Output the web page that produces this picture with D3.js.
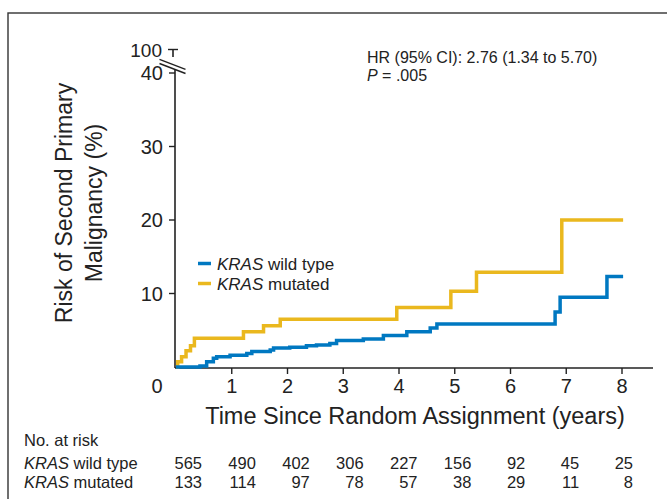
<!DOCTYPE html>
<html>
<head>
<meta charset="utf-8">
<script src="https://cdn.jsdelivr.net/npm/d3@7"></script>
<style>
  body { margin: 0; background: #fff; }
  svg { display: block; font-family: "Liberation Sans", Arial, sans-serif; }
</style>
</head>
<body>
<svg width="667" height="499"></svg>
<script>
// data
const wildTimes  = [0, 0.43, 0.55, 0.67, 0.73, 0.97, 1.27, 1.36, 1.69, 1.75, 2.04, 2.34, 2.52, 2.76, 2.88, 3.36, 3.72, 4.14, 4.56, 4.68, 6.80, 6.89, 7.73, 8.02];
const wildValues = [0, 0.15, 0.7, 1.2, 1.4, 1.6, 1.85, 2.1, 2.3, 2.6, 2.7, 2.9, 3.0, 3.2, 3.6, 3.8, 4.3, 4.8, 5.3, 5.85, 7.5, 9.5, 12.3, 12.3];
const mutTimes   = [0, 0.03, 0.1, 0.18, 0.26, 0.33, 1.21, 1.57, 1.87, 3.96, 4.93, 5.39, 6.92, 8.02];
const mutValues  = [0, 0.7, 1.4, 2.2, 2.9, 3.9, 4.8, 5.6, 6.5, 8.1, 10.3, 12.9, 20.0, 20.0];

const xTicks = [0, 1, 2, 3, 4, 5, 6, 7, 8];
const yTicks = [10, 20, 30, 40];
const riskWild = [565, 490, 402, 306, 227, 156, 92, 45, 25];
const riskMut  = [133, 114, 97, 78, 57, 38, 29, 11, 8];

const blue = "#0078c1";
const yellow = "#eab81e";
const ink = "#222";

const svg = d3.select("svg");

// frame (runs off the right and bottom edge)
svg.append("rect")
  .attr("x", 8).attr("y", 13)
  .attr("width", 700).attr("height", 600)
  .attr("fill", "none")
  .attr("stroke", "#333")
  .attr("stroke-width", 1.4);

const x = d3.scaleLinear().domain([0, 8]).range([176, 622]);
const y = d3.scaleLinear().domain([0, 40]).range([367, 73]);
const x0 = 175, yAxis = 368;

// x axis
svg.append("line")
  .attr("x1", x0).attr("x2", 653)
  .attr("y1", yAxis).attr("y2", yAxis)
  .attr("stroke", ink).attr("stroke-width", 1.6);

svg.selectAll(".xtick").data(xTicks.slice(1)).join("line")
  .attr("x1", d => x(d)).attr("x2", d => x(d))
  .attr("y1", yAxis).attr("y2", yAxis + 6)
  .attr("stroke", ink).attr("stroke-width", 1.4);

svg.selectAll(".xlab").data(xTicks).join("text")
  .attr("x", d => d === 0 ? 157 : x(d))
  .attr("y", 393)
  .attr("text-anchor", "middle")
  .attr("font-size", 20)
  .attr("fill", ink)
  .text(d => d);

// y axis with break
svg.append("line")
  .attr("x1", x0).attr("x2", x0)
  .attr("y1", yAxis).attr("y2", 69)
  .attr("stroke", ink).attr("stroke-width", 1.6);

svg.selectAll(".ytick").data(yTicks).join("line")
  .attr("x1", x0 - 6).attr("x2", x0)
  .attr("y1", d => y(d)).attr("y2", d => y(d))
  .attr("stroke", ink).attr("stroke-width", 1.4);

svg.selectAll(".ylab").data(yTicks).join("text")
  .attr("x", 163)
  .attr("y", d => y(d) + 7)
  .attr("text-anchor", "end")
  .attr("font-size", 20)
  .attr("fill", ink)
  .text(d => d);

// top segment with the 100 tick
svg.append("line")
  .attr("x1", x0 - 2).attr("x2", x0 - 2)
  .attr("y1", 49.5).attr("y2", 57)
  .attr("stroke", ink).attr("stroke-width", 1.6);
svg.append("line")
  .attr("x1", x0 - 7).attr("x2", x0 + 3)
  .attr("y1", 49.5).attr("y2", 49.5)
  .attr("stroke", ink).attr("stroke-width", 1.4);
svg.append("text")
  .attr("x", 162).attr("y", 56.5)
  .attr("text-anchor", "end")
  .attr("font-size", 19)
  .attr("fill", ink)
  .text("100");

[64.3, 68.5].forEach(cy => {
  svg.append("line")
    .attr("x1", 159.5).attr("y1", cy - 5)
    .attr("x2", 185.5).attr("y2", cy + 5)
    .attr("stroke", ink).attr("stroke-width", 1.4);
});

// axis titles
svg.append("text")
  .attr("x", 415).attr("y", 424)
  .attr("text-anchor", "middle")
  .attr("font-size", 23.5)
  .attr("fill", ink)
  .text("Time Since Random Assignment (years)");

const yTitle = ["Risk of Second Primary", "Malignancy (%)"];
yTitle.forEach((t, i) => {
  svg.append("text")
    .attr("transform", `translate(${72 + i * 30},203) rotate(-90)`)
    .attr("text-anchor", "middle")
    .attr("font-size", 23)
    .attr("fill", ink)
    .text(t);
});

// curves
const line = d3.line()
  .x(d => x(d[0]))
  .y(d => y(d[1]))
  .curve(d3.curveStepAfter);

svg.append("path")
  .datum(d3.zip(mutTimes, mutValues))
  .attr("d", line)
  .attr("fill", "none")
  .attr("stroke", yellow)
  .attr("stroke-width", 3.5);

svg.append("path")
  .datum(d3.zip(wildTimes, wildValues))
  .attr("d", line)
  .attr("fill", "none")
  .attr("stroke", blue)
  .attr("stroke-width", 3.5);

// legend
const legend = [
  { color: blue, label: " wild type" },
  { color: yellow, label: " mutated" }
];
legend.forEach((d, i) => {
  const ly = 263.5 + i * 20;
  svg.append("line")
    .attr("x1", 198).attr("x2", 211)
    .attr("y1", ly).attr("y2", ly)
    .attr("stroke", d.color).attr("stroke-width", 3.5);
  const t = svg.append("text")
    .attr("x", 217).attr("y", ly + 6)
    .attr("font-size", 17)
    .attr("fill", ink);
  t.append("tspan").attr("font-style", "italic").text("KRAS");
  t.append("tspan").text(d.label);
});

// HR annotation
svg.append("text")
  .attr("x", 367).attr("y", 63)
  .attr("font-size", 16)
  .attr("fill", ink)
  .text("HR (95% CI): 2.76 (1.34 to 5.70)");
const p = svg.append("text")
  .attr("x", 367).attr("y", 81)
  .attr("font-size", 16)
  .attr("fill", ink);
p.append("tspan").attr("font-style", "italic").text("P");
p.append("tspan").text(" = .005");

// number at risk table
const riskX = d3.scaleLinear().domain([0, 8]).range([202, 633]);
const table = svg.append("g").attr("fill", ink).attr("font-size", 16.5);

table.append("text").attr("x", 24).attr("y", 446).text("No. at risk");
[[" wild type", riskWild, 469], [" mutated", riskMut, 488]].forEach(([lab, vals, ty]) => {
  const t = table.append("text").attr("x", 24).attr("y", ty);
  t.append("tspan").attr("font-style", "italic").text("KRAS");
  t.append("tspan").text(lab);
  table.selectAll(null).data(vals).join("text")
    .attr("x", (d, i) => riskX(xTicks[i]))
    .attr("y", ty)
    .attr("text-anchor", "end")
    .text(d => d);
});
</script>
</body>
</html>
